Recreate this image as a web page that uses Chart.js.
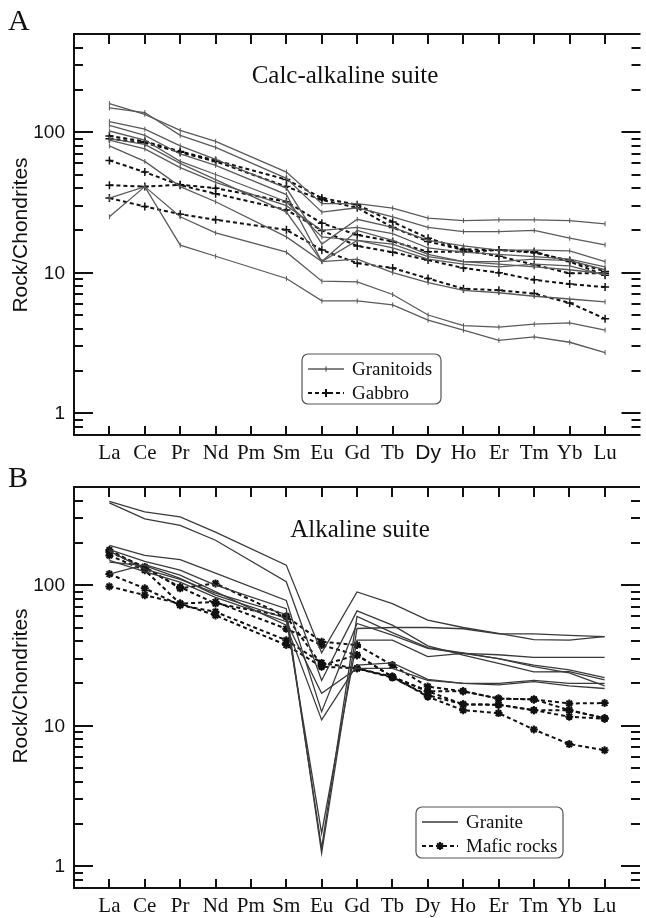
<!DOCTYPE html>
<html>
<head>
<meta charset="utf-8">
<script src="https://cdn.jsdelivr.net/npm/chart.js@4.4.1/dist/chart.umd.min.js"></script>
<style>
  html, body { margin: 0; padding: 0; background: #fff; }
  canvas { position: absolute; left: 0; }
  #chartA { top: 0; }
  #chartB { top: 465px; }
</style>
</head>
<body>
<canvas id="chartA" width="646" height="465"></canvas>
<canvas id="chartB" width="646" height="453"></canvas>
<script>
// REE, chondrite normalised
const elements = ['La', 'Ce', 'Pr', 'Nd', 'Pm', 'Sm', 'Eu', 'Gd', 'Tb', 'Dy', 'Ho', 'Er', 'Tm', 'Yb', 'Lu'];
const yMajorTicks = [1, 10, 100];
const yMinorTicks = [0.8, 0.9, 2, 3, 4, 5, 6, 7, 8, 9, 20, 30, 40, 50, 60, 70, 80, 90, 200, 300, 400];

// A - calc-alkaline suite
const granitoids = [
    [160, 134, 103, 86, null, 52, 31, 31, 28.8, 24.5, 23.5, 23.8, 23.8, 23.5, 22.3],
    [149, 138, 95, 78, null, 47, 27, 29, 25, 21, 19.6, 19.6, 20, 17.6, 15.8],
    [119, 105, 80, 64, null, 40, 16, 24, 21, 17, 15.5, 14.5, 14.5, 14.3, 12.0],
    [112, 95, 70, 58, null, 36, 12, 17, 16, 13, 12, 12, 12.5, 12.2, 10.5],
    [102, 88, 62, 50, null, 32, 18, 17, 15, 12.5, 11.5, 11, 11.5, 11.2, 9.6],
    [90, 82, 60, 46, null, 27, 12, 20, 17, 13.5, 12, 11.5, 11, 10.5, 9.8],
    [88, 76, 56, 44, null, 30, 20, 21, 19, 15, 14, 13.5, 13, 12.5, 11],
    [80, 62, 41, 32, null, 18, 12, 12.5, 10, 8.5, 7.5, 7.2, 6.8, 6.5, 6.2],
    [34, 41, 25, 19.2, null, 14, 8.7, 8.6, 7, 5, 4.2, 4.1, 4.3, 4.4, 3.9],
    [25, 41, 15.7, 13.1, null, 9.1, 6.3, 6.3, 5.9, 4.6, 3.9, 3.3, 3.5, 3.2, 2.7]
];
const gabbro = [
    [94, 86, 73, 63, null, 46, 34, 30.5, 23, 17.6, 14.7, 14.5, 13.9, 12.2, 10.2],
    [90, 84, 72, 62, null, 41, 33, 29, 21, 16.7, 14.5, 13.1, 11.4, 9.9, 9.9],
    [63, 52, 42, 36.5, null, 28, 20, 15.5, 14, 12.3, 10.8, 10, 8.9, 8.3, 7.9],
    [42, 41, 42.3, 40, null, 32, 22.5, 18.6, 16.7, 14.1, 14.1, 14.5, 14.1, 12.0, 9.6],
    [34, 29.6, 26.1, 23.8, null, 20.2, 14.5, 11.7, 10.8, 9.1, 7.7, 7.5, 7.1, 6.1, 4.7]
];

// B - alkaline suite
const granite = [
    [395, 332, 306, 239, null, 139, 33, 89.6, 74, 56.4, 50, 45.4, 41, 40.6, 43],
    [385, 297, 267, 209, null, 106, 21, 65.7, 52, 37, 31.8, 27.8, 24.2, 24.3, 21.2],
    [192, 163, 152, 122, null, 78, 12.6, 53.4, 44.1, 35.5, 32.7, 30, 26.3, 23.8, 19.2],
    [179, 148, 128, 100, null, 68, 1.24, 49.2, 50, 50, 49, 45, 45, 44, 43],
    [146, 138, 112, 85, null, 58, 1.72, 40.6, 40.6, 31, 32.7, 32, 30.7, 30.7, 30.7],
    [120, 140, 118, 90, null, 52, 11, 27, 28, 21.4, 20, 19.5, 20.6, 19.2, 18.4],
    [150, 125, 105, 82, null, 55, 17, 25.6, 25.6, 21, 20, 20, 21, 20, 20],
    [175, 130, 110, 88, null, 62, 1.35, 60, 46, 36, 33, 30, 27, 25, 22]
];
const maficRocks = [
    [98, 85, 74, 61, null, 37.5, 26.3, 25.6, 22, 16.5, 14.2, 14.1, 12.9, 12.9, 11.3],
    [120, 95, 72, 64.6, null, 40.6, 28, 25.6, 22.3, 16.1, 12.9, 12.3, 9.4, 7.4, 6.7],
    [172, 135, 95, 103, null, 60, 39.6, 37.5, 27, 19, 17.6, 15.6, 15.4, 14.4, 14.5],
    [163, 128, 74, 76, null, 49, 37.5, 31.8, 22.3, 17.6, 17.6, 15.6, 15.4, 12.9, 11.3],
    [178, 132, 97, 74, null, 60, 27, 31.8, 22.3, 17.6, 14.2, 14.1, 12.9, 11.6, 11.2]
];

const SERIF = '"Liberation Serif", "Times New Roman", serif';
const SANS = '"Liberation Sans", Arial, sans-serif';

function toPoints(vals) {
    return vals.map((v, i) => ({ x: i, y: v }));
}

const styles = {
    granitoid: { borderColor: '#5a5a5a', borderWidth: 1.3, pointStyle: 'line', rotation: 90, pointRadius: 2.5, pointBorderWidth: 1, dash: [] },
    gabbro: { borderColor: '#111', borderWidth: 2, pointStyle: 'cross', pointRadius: 4, pointBorderWidth: 1.5, dash: [4, 3] },
    granite: { borderColor: '#3a3a3a', borderWidth: 1.3, pointStyle: 'circle', pointRadius: 0, pointBorderWidth: 0, dash: [] },
    mafic: { borderColor: '#111', borderWidth: 2, pointStyle: 'star', pointRadius: 4, pointBorderWidth: 2, dash: [4, 3] }
};

function dataset(vals, kind) {
    const s = styles[kind];
    return {
        data: toPoints(vals),
        borderColor: s.borderColor,
        backgroundColor: s.borderColor,
        borderWidth: s.borderWidth,
        borderDash: s.dash,
        pointStyle: s.pointStyle,
        rotation: s.rotation || 0,
        pointRadius: s.pointRadius,
        pointBorderWidth: s.pointBorderWidth,
        pointBorderColor: s.borderColor,
        pointBackgroundColor: s.borderColor,
        tension: 0,
        spanGaps: true
    };
}

function drawMarker(ctx, kind, x, y) {
    const s = styles[kind];
    if (!s.pointRadius) return;
    Chart.helpers.drawPoint(ctx, {
        pointStyle: s.pointStyle, radius: s.pointRadius, rotation: s.rotation || 0,
        borderWidth: s.pointBorderWidth
    }, x, y);
}

function axesPlugin(cfg) {
    return {
        id: 'axes' + cfg.letter,
        afterDatasetsDraw(chart) {
            const { ctx, chartArea: a, scales: { x, y } } = chart;
            ctx.save();
            ctx.strokeStyle = '#111';
            ctx.fillStyle = '#111';
            ctx.lineWidth = 2;
            ctx.setLineDash([]);

            // frame (right edge falls on the border of the picture)
            ctx.beginPath();
            ctx.moveTo(a.right, a.top);
            ctx.lineTo(a.left, a.top);
            ctx.lineTo(a.left, a.bottom);
            ctx.lineTo(a.right, a.bottom);
            ctx.stroke();

            // y ticks, inward on both sides
            ctx.beginPath();
            yMajorTicks.forEach(v => {
                const py = Math.round(y.getPixelForValue(v));
                ctx.moveTo(a.left, py); ctx.lineTo(a.left + 19, py);
                ctx.moveTo(a.right, py); ctx.lineTo(a.right - 19, py);
            });
            yMinorTicks.forEach(v => {
                const py = Math.round(y.getPixelForValue(v));
                ctx.moveTo(a.left, py); ctx.lineTo(a.left + 9, py);
                ctx.moveTo(a.right, py); ctx.lineTo(a.right - 9, py);
            });
            // x ticks, inward on top and bottom
            elements.forEach((el, i) => {
                const px = Math.round(x.getPixelForValue(i));
                ctx.moveTo(px, a.bottom); ctx.lineTo(px, a.bottom - 9);
                ctx.moveTo(px, a.top); ctx.lineTo(px, a.top + 10);
            });
            ctx.stroke();

            // y tick labels
            ctx.font = '19px ' + SANS;
            ctx.textAlign = 'right';
            ctx.textBaseline = 'middle';
            yMajorTicks.forEach(v => {
                ctx.fillText(String(v), a.left - 9, y.getPixelForValue(v) + 1);
            });

            // x labels
            ctx.textAlign = 'center';
            ctx.textBaseline = 'alphabetic';
            elements.forEach((el, i) => {
                ctx.font = (cfg.sansDy && el === 'Dy') ? '21px ' + SANS : '21px ' + SERIF;
                ctx.fillText(el, x.getPixelForValue(i), a.bottom + 24);
            });

            // y title
            ctx.save();
            ctx.translate(21, cfg.yTitleY);
            ctx.rotate(-Math.PI / 2);
            ctx.font = '21px ' + SANS;
            ctx.textAlign = 'center';
            ctx.textBaseline = 'middle';
            ctx.fillText('Rock/Chondrites', 0, 0);
            ctx.restore();

            // panel letter and title
            ctx.font = '30px ' + SERIF;
            ctx.textAlign = 'left';
            ctx.fillText(cfg.letter, 8, cfg.letterY);
            ctx.font = '25px ' + SERIF;
            ctx.textAlign = 'center';
            ctx.fillText(cfg.title, cfg.titleX, cfg.titleY);

            // legend
            const L = cfg.legend;
            ctx.lineWidth = 1.2;
            ctx.strokeStyle = '#555';
            ctx.beginPath();
            ctx.roundRect(L.x, L.y, L.w, L.h, 6);
            ctx.stroke();
            L.rows.forEach((row, k) => {
                const s = styles[row.kind];
                const ry = L.y + 15 + k * 24;
                ctx.strokeStyle = s.borderColor;
                ctx.fillStyle = s.borderColor;
                ctx.lineWidth = s.borderWidth;
                ctx.setLineDash(s.dash);
                ctx.beginPath();
                ctx.moveTo(L.x + 6, ry);
                ctx.lineTo(L.x + 42, ry);
                ctx.stroke();
                ctx.setLineDash([]);
                drawMarker(ctx, row.kind, L.x + 24, ry);
                ctx.fillStyle = '#111';
                ctx.font = '19px ' + SERIF;
                ctx.textAlign = 'left';
                ctx.textBaseline = 'middle';
                ctx.fillText(row.label, L.x + 50, ry + 1);
            });
            ctx.restore();
        }
    };
}

function makeChart(id, sets, padding, cfg) {
    return new Chart(document.getElementById(id), {
        type: 'line',
        data: { datasets: sets },
        options: {
            responsive: false,
            animation: false,
            layout: { padding: padding },
            plugins: { legend: { display: false }, tooltip: { enabled: false } },
            scales: {
                x: { type: 'linear', min: -1, max: 15, display: false },
                y: { type: 'logarithmic', min: 0.7, max: 500, display: false }
            }
        },
        plugins: [axesPlugin(cfg)]
    });
}

makeChart('chartA',
    [...granitoids.map(v => dataset(v, 'granitoid')), ...gabbro.map(v => dataset(v, 'gabbro'))],
    { left: 74, top: 34, right: 0, bottom: 30 },
    {
        letter: 'A', letterY: 30, title: 'Calc-alkaline suite', titleX: 345, titleY: 83,
        yTitleY: 235, sansDy: true,
        legend: { x: 302, y: 354, w: 139, h: 50, rows: [{ kind: 'granitoid', label: 'Granitoids' }, { kind: 'gabbro', label: 'Gabbro' }] }
    });

makeChart('chartB',
    [...granite.map(v => dataset(v, 'granite')), ...maficRocks.map(v => dataset(v, 'mafic'))],
    { left: 74, top: 22, right: 0, bottom: 30 },
    {
        letter: 'B', letterY: 22, title: 'Alkaline suite', titleX: 360, titleY: 72,
        yTitleY: 221, sansDy: false,
        legend: { x: 416, y: 342, w: 147, h: 51, rows: [{ kind: 'granite', label: 'Granite' }, { kind: 'mafic', label: 'Mafic rocks' }] }
    });
</script>
</body>
</html>
